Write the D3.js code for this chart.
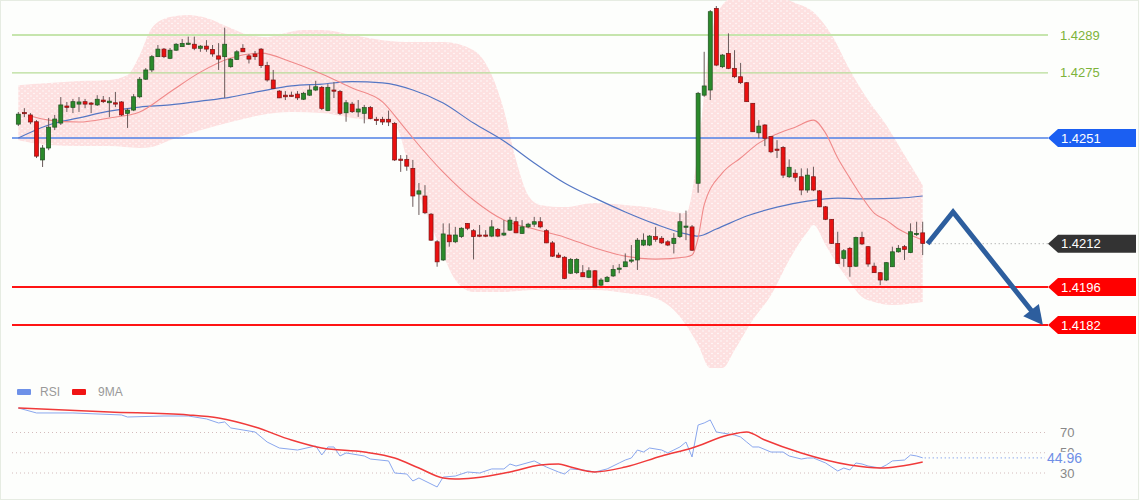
<!DOCTYPE html>
<html><head><meta charset="utf-8">
<script src="https://cdn.jsdelivr.net/npm/d3@7"></script>
<style>body{margin:0;background:#fff}svg{display:block;font-family:"Liberation Sans",Arial,sans-serif}</style>
</head><body><svg id="c" width="1140" height="500"></svg>
<script>
// ---- candle data (OHLC) ----
const opens=[1.42561,1.42604,1.42595,1.42570,1.42429,1.42473,1.42550,1.42565,1.42628,1.42623,1.42635,1.42644,1.42639,1.42632,1.42650,1.42640,1.42640,1.42643,1.42601,1.42613,
1.42662,1.42727,1.42761,1.42810,1.42838,1.42804,1.42834,1.42847,1.42857,1.42856,1.42841,1.42849,1.42837,1.42813,1.42810,1.42773,1.42800,1.42841,1.42813,1.42820,
1.42838,1.42777,1.42724,1.42683,1.42668,1.42668,1.42672,1.42653,1.42668,1.42687,1.42697,1.42611,1.42687,1.42681,1.42603,1.42635,1.42606,1.42601,1.42622,1.42579,
1.42579,1.42579,1.42564,1.42432,1.42431,1.42398,1.42303,1.42296,1.42229,1.42127,1.42060,1.42152,1.42127,1.42146,1.42195,1.42168,1.42152,1.42152,1.42148,1.42173,
1.42152,1.42170,1.42201,1.42158,1.42182,1.42192,1.42201,1.42168,1.42123,1.42078,1.42070,1.42011,1.42013,1.42013,1.41996,1.42020,1.41967,1.41980,1.42001,1.42026,
1.42035,1.42056,1.42060,1.42115,1.42115,1.42146,1.42140,1.42127,1.42121,1.42146,1.42181,1.42182,1.42343,1.42668,1.42687,1.42988,1.42773,1.42822,1.42767,1.42736,
1.42714,1.42638,1.42529,1.42558,1.42515,1.42469,1.42475,1.42367,1.42380,1.42367,1.42318,1.42367,1.42315,1.42256,1.42210,1.42121,1.42066,1.42103,1.42037,1.42143,
1.42109,1.42037,1.42013,1.41986,1.42035,1.42090,1.42109,1.42087,1.42156,1.42160];
const highs=[1.42606,1.42620,1.42602,1.42576,1.42484,1.42584,1.42595,1.42661,1.42643,1.42654,1.42661,1.42654,1.42643,1.42668,1.42665,1.42661,1.42680,1.42646,1.42620,1.42672,
1.42735,1.42768,1.42816,1.42853,1.42842,1.42842,1.42860,1.42875,1.42884,1.42884,1.42853,1.42871,1.42853,1.42860,1.42917,1.42805,1.42834,1.42856,1.42820,1.42831,
1.42842,1.42791,1.42761,1.42687,1.42683,1.42681,1.42683,1.42680,1.42705,1.42721,1.42702,1.42709,1.42716,1.42687,1.42650,1.42643,1.42650,1.42632,1.42628,1.42588,
1.42588,1.42611,1.42569,1.42447,1.42447,1.42429,1.42344,1.42336,1.42233,1.42133,1.42195,1.42195,1.42182,1.42181,1.42196,1.42174,1.42189,1.42170,1.42207,1.42178,
1.42207,1.42219,1.42219,1.42207,1.42197,1.42219,1.42218,1.42174,1.42130,1.42087,1.42074,1.42067,1.42067,1.42041,1.42033,1.42023,1.41993,1.42001,1.42041,1.42045,
1.42084,1.42115,1.42141,1.42158,1.42152,1.42182,1.42148,1.42133,1.42159,1.42232,1.42242,1.42189,1.42680,1.42828,1.42982,1.42997,1.42820,1.42896,1.42834,1.42787,
1.42716,1.42639,1.42576,1.42561,1.42517,1.42502,1.42480,1.42431,1.42394,1.42398,1.42398,1.42404,1.42318,1.42259,1.42211,1.42164,1.42100,1.42108,1.42146,1.42164,
1.42111,1.42050,1.42015,1.42052,1.42109,1.42115,1.42115,1.42195,1.42201,1.42201];
const lows=[1.42554,1.42587,1.42561,1.42436,1.42403,1.42465,1.42539,1.42558,1.42606,1.42602,1.42606,1.42620,1.42602,1.42628,1.42639,1.42587,1.42624,1.42591,1.42547,1.42609,
1.42657,1.42724,1.42753,1.42809,1.42805,1.42801,1.42831,1.42846,1.42853,1.42834,1.42828,1.42828,1.42810,1.42761,1.42658,1.42769,1.42798,1.42827,1.42785,1.42798,
1.42768,1.42718,1.42691,1.42657,1.42650,1.42662,1.42650,1.42650,1.42665,1.42683,1.42613,1.42609,1.42657,1.42595,1.42570,1.42602,1.42588,1.42564,1.42579,1.42558,
1.42558,1.42554,1.42425,1.42385,1.42389,1.42256,1.42226,1.42229,1.42130,1.42035,1.42056,1.42109,1.42122,1.42141,1.42170,1.42062,1.42144,1.42144,1.42144,1.42144,
1.42148,1.42167,1.42159,1.42156,1.42177,1.42182,1.42177,1.42122,1.42071,1.42067,1.41989,1.42008,1.42008,1.41997,1.41993,1.41960,1.41964,1.41978,1.41997,1.42011,
1.42034,1.42049,1.42023,1.42111,1.42111,1.42127,1.42119,1.42111,1.42084,1.42141,1.42133,1.42093,1.42308,1.42662,1.42650,1.42775,1.42768,1.42764,1.42731,1.42709,
1.42643,1.42532,1.42509,1.42480,1.42454,1.42436,1.42362,1.42362,1.42349,1.42299,1.42308,1.42314,1.42255,1.42207,1.42119,1.42045,1.42035,1.41998,1.42034,1.42115,
1.42035,1.42012,1.41967,1.41982,1.42034,1.42087,1.42060,1.42085,1.42148,1.42078];
const closes=[1.42598,1.42600,1.42569,1.42443,1.42473,1.42550,1.42580,1.42632,1.42623,1.42644,1.42643,1.42635,1.42635,1.42653,1.42644,1.42646,1.42635,1.42595,1.42613,1.42662,
1.42727,1.42761,1.42810,1.42838,1.42810,1.42834,1.42856,1.42859,1.42860,1.42841,1.42849,1.42838,1.42820,1.42801,1.42856,1.42801,1.42828,1.42828,1.42801,1.42810,
1.42777,1.42724,1.42693,1.42658,1.42662,1.42666,1.42658,1.42675,1.42687,1.42699,1.42619,1.42697,1.42683,1.42601,1.42640,1.42607,1.42617,1.42622,1.42582,1.42575,
1.42569,1.42569,1.42429,1.42429,1.42406,1.42296,1.42315,1.42234,1.42133,1.42053,1.42156,1.42127,1.42152,1.42177,1.42177,1.42146,1.42148,1.42148,1.42182,1.42148,
1.42159,1.42207,1.42160,1.42182,1.42192,1.42201,1.42182,1.42123,1.42074,1.42070,1.41992,1.42062,1.42062,1.41998,1.42020,1.41961,1.41986,1.41996,1.42025,1.42030,
1.42053,1.42060,1.42133,1.42133,1.42148,1.42136,1.42123,1.42115,1.42140,1.42201,1.42185,1.42096,1.42675,1.42702,1.42976,1.42779,1.42816,1.42767,1.42736,1.42714,
1.42644,1.42533,1.42554,1.42509,1.42459,1.42465,1.42373,1.42402,1.42365,1.42318,1.42373,1.42318,1.42256,1.42210,1.42121,1.42047,1.42094,1.42035,1.42143,1.42119,
1.42045,1.42013,1.41986,1.42050,1.42090,1.42103,1.42099,1.42164,1.42158,1.42121];

// ---- bands & moving averages (index = candle number) ----
const bandUpperIdx=[0,5,10,15,18,20,22,25,28,31,35,38,41,44,47,50,55,60,65,70,75,78,80,82,84,86,90,95,100,105,108,110,112,114,116,118,125,128,131,134,137,140,143,146,149];
const bandUpper=[1.42705,1.42713,1.42720,1.42724,1.42742,1.42816,1.42916,1.42956,1.42964,1.42953,1.42916,1.42890,1.42882,1.42897,1.42908,1.42908,1.42890,1.42871,1.42864,1.42864,1.42834,1.42742,1.42613,1.42429,1.42299,1.42263,1.42255,1.42270,1.42263,1.42251,1.42237,1.42233,1.42465,1.42871,1.43001,1.43030,1.43030,1.43008,1.42975,1.42890,1.42761,1.42650,1.42558,1.42447,1.42336];
const bandLowerIdx=[0,5,10,15,20,22,25,30,35,40,45,50,55,60,62,65,68,70,72,75,80,85,90,95,100,105,108,110,112,114,116,118,121,124,127,130,131,133,135,137,139,141,144,149];
const bandLower=[1.42502,1.42484,1.42480,1.42480,1.42473,1.42477,1.42502,1.42539,1.42569,1.42595,1.42606,1.42602,1.42584,1.42569,1.42558,1.42355,1.42189,1.42078,1.41986,1.41942,1.41942,1.41949,1.41949,1.41949,1.41938,1.41919,1.41875,1.41820,1.41746,1.41661,1.41661,1.41727,1.41838,1.41930,1.42060,1.42163,1.42189,1.42115,1.42041,1.41978,1.41923,1.41905,1.41894,1.41905];
const maFastIdx=[2,5,10,15,20,25,30,35,40,45,50,55,60,63,65,70,75,80,85,90,95,100,105,110,111,112,113,116,119,122,125,128,131,133,135,137,139,141,143,145,147,149];
const maFast=[1.42591,1.42576,1.42569,1.42584,1.42606,1.42680,1.42753,1.42805,1.42823,1.42790,1.42746,1.42694,1.42643,1.42565,1.42510,1.42384,1.42281,1.42207,1.42174,1.42144,1.42104,1.42074,1.42063,1.42071,1.42078,1.42141,1.42263,1.42381,1.42436,1.42491,1.42525,1.42550,1.42576,1.42528,1.42436,1.42362,1.42292,1.42233,1.42207,1.42174,1.42152,1.42133];
const maSlowIdx=[0,5,10,15,20,25,30,35,40,45,50,55,60,65,70,75,80,85,90,95,100,105,110,112,115,120,125,130,135,140,145,149];
const maSlow=[1.42510,1.42558,1.42584,1.42609,1.42624,1.42632,1.42646,1.42661,1.42683,1.42702,1.42709,1.42718,1.42713,1.42687,1.42639,1.42565,1.42499,1.42418,1.42344,1.42288,1.42237,1.42192,1.42156,1.42148,1.42174,1.42222,1.42255,1.42277,1.42288,1.42285,1.42288,1.42296];

// ---- levels ----
const levels=[1.4289,1.4275,1.4251,1.4212,1.4196,1.4182];
const levelKinds=["green2","green1","blue","last","red","red"];
const arrowIdx=[149.8,154,168.8];
const arrowPrice=[1.4212,1.42237,1.4182];

// ---- RSI ----
const rsiIdx=[0,3,9,17,18,24,28,31,33,34,35,39,41,43,46,49,50,51,52,53,54,57,58,61,62,64,65,66,69,70,72,74,76,78,80,81,82,85,87,89,90,91,93,95,97,99,100,101,102,103,104,106,107,109,110,111,112,113,114,115,116,117,118,119,120,121,122,124,126,127,129,130,131,133,135,136,137,138,139,140,142,143,144,146,147,148,149];
const rsi=[94.2,89.3,89.3,87.3,85.3,86.3,86.3,83.4,79.4,80.4,74.5,70.5,60.6,54.7,52.7,56.7,47.8,55.7,55.7,46.8,49.8,46.8,43.8,41.9,30.0,29.0,22.1,25.1,16.2,26.0,27.0,31.0,30.0,34.0,34.0,38.9,36.9,41.9,35.9,31.0,29.0,34.0,33.0,31.0,34.0,39.9,42.8,44.8,52.7,50.7,54.7,52.7,49.8,55.7,60.6,45.8,77.4,79.4,82.4,70.5,69.5,68.5,67.5,65.6,60.6,55.7,55.7,50.7,50.7,46.8,43.8,44.8,44.8,39.9,32.0,34.9,33.0,39.9,38.9,36.9,34.9,37.9,41.9,42.8,47.8,46.8,44.96];
const rsiMaIdx=[0,15,28,33,39,45,50,57,62,66,70,72,75,81,86,89,91,95,100,106,111,117,120,123,129,137,142,149];
const rsiMa=[94.2,90.3,87.3,84.3,75.4,62.6,54.7,50.7,44.8,34.9,25.1,24.1,25.1,31.0,37.9,38.9,35.9,31.0,35.9,46.8,54.7,67.5,70.5,62.6,49.8,37.9,34.9,40.9];
const rsiLevels=[70,50,30];
const rsiLast=44.96;

// ---- drawing ----
const svg=d3.select("#c");
const x=d3.scaleLinear().domain([0,149]).range([18.3,922.7]);
const y=d3.scaleLinear().domain([1.4289,1.4182]).range([35,325]);
const yr=d3.scaleLinear().domain([30,70]).range([473,432.5]);
const lineL=12, lineR=1048;

svg.append("rect").attr("width",1140).attr("height",500).attr("fill","#fdfefc");
svg.append("rect").attr("x",0.5).attr("y",0.5).attr("width",1138).attr("height",499).attr("fill","none").attr("stroke","#e6ece2");

const defs=svg.append("defs");
const pat=defs.append("pattern").attr("id","dots").attr("width",6).attr("height",5).attr("patternUnits","userSpaceOnUse");
pat.append("rect").attr("width",6).attr("height",5).attr("fill","#fde0e0");
pat.append("circle").attr("cx",1).attr("cy",1).attr("r",0.75).attr("fill","#fff");
pat.append("circle").attr("cx",4).attr("cy",3.5).attr("r",0.75).attr("fill","#fff");
defs.append("clipPath").attr("id","main").append("rect").attr("x",0).attr("y",0).attr("width",1140).attr("height",380);

// band
const curve=d3.curveMonotoneX;
const upPts=bandUpperIdx.map((d,i)=>[x(d),y(bandUpper[i])]);
const loPts=bandLowerIdx.map((d,i)=>[x(d),y(bandLower[i])]).reverse();
const up=d3.line().curve(curve)(upPts);
const lo=d3.line().curve(curve)(loPts);
svg.append("path").attr("d",up+"L"+lo.slice(1)+"Z").attr("fill","url(#dots)").attr("clip-path","url(#main)");

// level lines
levels.forEach((lv,i)=>{
  const k=levelKinds[i];
  const yy=y(lv);
  if(k==="last"){
    svg.append("line").attr("x1",x(149)+8).attr("x2",lineR).attr("y1",yy).attr("y2",yy)
      .attr("stroke","#999").attr("stroke-width",1).attr("stroke-dasharray","1,3");
    return;
  }
  const st={green2:["#c6e5ad",2],green1:["#b7dc98",1.2],blue:["#4f80e6",1.6],red:["#ff1414",2]}[k];
  svg.append("line").attr("x1",lineL).attr("x2",lineR).attr("y1",yy).attr("y2",yy)
    .attr("stroke",st[0]).attr("stroke-width",st[1]);
});

// moving averages
svg.append("path").datum(maSlowIdx.map((d,i)=>[x(d),y(maSlow[i])]))
  .attr("d",d3.line().curve(curve)).attr("fill","none").attr("stroke","#5577c4").attr("stroke-width",1.2);
svg.append("path").datum(maFastIdx.map((d,i)=>[x(d),y(maFast[i])]))
  .attr("d",d3.line().curve(curve)).attr("fill","none").attr("stroke","#f08a8a").attr("stroke-width",1.1);

// candles
const cg=svg.append("g");
opens.forEach((o,i)=>{
  const c=closes[i], up=c>=o;
  const cx=x(i);
  cg.append("line").attr("x1",cx).attr("x2",cx).attr("y1",y(highs[i])).attr("y2",y(lows[i]))
    .attr("stroke","#6a5a5a").attr("stroke-width",1);
  const top=y(Math.max(o,c)), bot=y(Math.min(o,c));
  cg.append("rect").attr("x",cx-2).attr("width",4).attr("y",top).attr("height",Math.max(1.2,bot-top))
    .attr("fill",up?"#2b8a2b":"#ea1010").attr("stroke",up?"#1f4f1f":"#7a1515").attr("stroke-width",0.7);
});

// arrow
const ap=arrowIdx.map((d,i)=>[x(d),y(arrowPrice[i])]);
const tip=ap[2], prev=ap[1];
const dx=tip[0]-prev[0], dy=tip[1]-prev[1], len=Math.hypot(dx,dy), ux=dx/len, uy=dy/len;
const hl=19, hw=10;
const base=[tip[0]-ux*hl, tip[1]-uy*hl];
svg.append("path").attr("d",d3.line()([ap[0],ap[1],[base[0]+ux*2,base[1]+uy*2]]))
  .attr("fill","none").attr("stroke","#2d5e9e").attr("stroke-width",5).attr("stroke-linejoin","miter");
svg.append("path").attr("d",d3.line()([tip,[base[0]-uy*hw,base[1]+ux*hw],[base[0]+uy*hw,base[1]-ux*hw]])+"Z")
  .attr("fill","#2d5e9e");

// labels
levels.forEach((lv,i)=>{
  const k=levelKinds[i], yy=y(lv), txt=lv.toFixed(4);
  if(k==="green2"||k==="green1"){
    svg.append("text").attr("x",1060).attr("y",yy).attr("dy","0.35em").attr("font-size",13)
      .attr("fill","#7db33a").text(txt);
    return;
  }
  const fill={blue:"#1b5ff2",last:"#333333",red:"#ff0000"}[k];
  const L=1048,P=1058,R=1136,h=9;
  svg.append("path").attr("d",`M${L},${yy}L${P},${yy-h}L${R},${yy-h}L${R},${yy+h}L${P},${yy+h}Z`).attr("fill",fill);
  svg.append("text").attr("x",1061).attr("y",yy).attr("dy","0.36em").attr("font-size",13)
    .attr("fill","#fff").text(txt);
});

// ---- RSI panel ----
const lg=svg.append("g").attr("font-size",12).attr("fill","#999");
lg.append("rect").attr("x",17).attr("y",389).attr("width",14).attr("height",6).attr("rx",1).attr("fill","#6e91e8");
lg.append("text").attr("x",40).attr("y",392).attr("dy","0.35em").text("RSI");
lg.append("rect").attr("x",72).attr("y",389).attr("width",14).attr("height",6).attr("rx",1).attr("fill","#f01414");
lg.append("text").attr("x",98).attr("y",392).attr("dy","0.35em").text("9MA");

rsiLevels.forEach(v=>{
  svg.append("line").attr("x1",lineL).attr("x2",1045).attr("y1",yr(v)).attr("y2",yr(v))
    .attr("stroke","#d4bcbc").attr("stroke-width",1).attr("stroke-dasharray","1,3");
  svg.append("text").attr("x",1060).attr("y",yr(v)).attr("dy","0.35em").attr("font-size",13)
    .attr("fill","#888").text(v);
});

svg.append("path").datum(rsiIdx.map((d,i)=>[x(d),yr(rsi[i])]))
  .attr("d",d3.line()).attr("fill","none").attr("stroke","#8aa7ee").attr("stroke-width",1);
svg.append("path").datum(rsiMaIdx.map((d,i)=>[x(d),yr(rsiMa[i])]))
  .attr("d",d3.line().curve(d3.curveMonotoneX)).attr("fill","none").attr("stroke","#f03a3a").attr("stroke-width",1.5);

svg.append("line").attr("x1",x(149)+2).attr("x2",1045).attr("y1",yr(rsiLast)).attr("y2",yr(rsiLast))
  .attr("stroke","#7d9be8").attr("stroke-width",1.2).attr("stroke-dasharray","1,3");
svg.append("rect").attr("x",1046).attr("y",yr(rsiLast)-6).attr("width",52).attr("height",14).attr("fill","#fdfefc");
svg.append("text").attr("x",1047).attr("y",yr(rsiLast)).attr("dy","0.36em").attr("font-size",14)
  .attr("fill","#6f8ee6").text(rsiLast.toFixed(2));
</script></body></html>
